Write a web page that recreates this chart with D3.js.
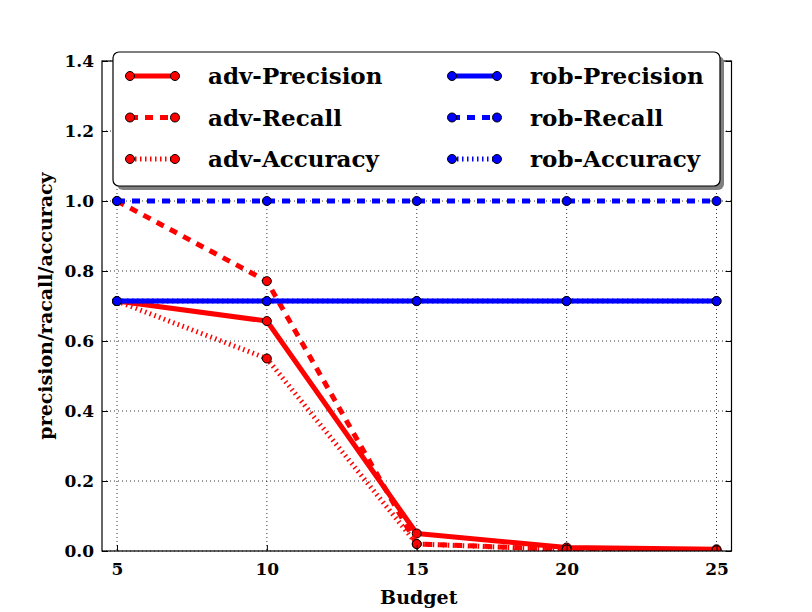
<!DOCTYPE html>
<html><head><meta charset="utf-8">
<script src="https://cdn.jsdelivr.net/npm/d3@7"></script>
<style>body{margin:0;background:#fff}</style>
</head><body>
<script>
const budgets = [5, 10, 15, 20, 25];
const advPrecision = [0.714, 0.657, 0.050, 0.010, 0.005];
const advRecall    = [1.000, 0.771, 0.020, 0.005, 0.002];
const advAccuracy  = [0.714, 0.550, 0.020, 0.004, 0.002];
const robPrecision = [0.714, 0.714, 0.714, 0.714, 0.714];
const robRecall    = [1.000, 1.000, 1.000, 1.000, 1.000];
const robAccuracy  = [0.714, 0.714, 0.714, 0.714, 0.714];
const xTicks = [5, 10, 15, 20, 25];
const yTicks = [0.0, 0.2, 0.4, 0.6, 0.8, 1.0, 1.2, 1.4];
const seriesNames = ["adv-Precision","adv-Recall","adv-Accuracy","rob-Precision","rob-Recall","rob-Accuracy"];

const W = 812, H = 612;
const m = {left:102, top:61, right:812-731.5, bottom:612-551};
const iw = W - m.left - m.right, ih = H - m.top - m.bottom;
const FONT = "'DejaVu Serif', serif";

const series = [
  {name:seriesNames[0], vals:advPrecision, color:"#ff0000", dash:null},
  {name:seriesNames[1], vals:advRecall, color:"#ff0000", dash:"8,7"},
  {name:seriesNames[2], vals:advAccuracy, color:"#ff0000", dash:"1.5,3.5"},
  {name:seriesNames[3], vals:robPrecision, color:"#0000ff", dash:null},
  {name:seriesNames[4], vals:robRecall, color:"#0000ff", dash:"8,7"},
  {name:seriesNames[5], vals:robAccuracy, color:"#0000ff", dash:"1.5,3.5"}
];

const svg = d3.select("body").append("svg").attr("width", W).attr("height", H);
const g = svg.append("g").attr("transform", `translate(${m.left},${m.top})`);

const x = d3.scaleLinear().domain([4.5, 25.5]).range([0, iw]);
const y = d3.scaleLinear().domain([0, 1.4]).range([ih, 0]);

svg.append("defs").append("clipPath").attr("id","clip")
  .append("rect").attr("width", iw).attr("height", ih);

// grid
const grid = g.append("g");
grid.selectAll("line.gx").data(xTicks).join("line")
  .attr("x1", d=>x(d)).attr("x2", d=>x(d)).attr("y1",0).attr("y2",ih)
  .attr("stroke","#000").attr("stroke-width",0.8).attr("stroke-dasharray","1,3");
grid.selectAll("line.gy").data(yTicks).join("line")
  .attr("y1", d=>y(d)).attr("y2", d=>y(d)).attr("x1",0).attr("x2",iw)
  .attr("stroke","#000").attr("stroke-width",0.8).attr("stroke-dasharray","1,3");

// lines
const plot = g.append("g").attr("clip-path","url(#clip)");
const line = d3.line().x((d,i)=>x(budgets[i])).y(d=>y(d));
series.forEach(s => {
  plot.append("path").datum(s.vals).attr("d", line)
    .attr("fill","none").attr("stroke", s.color).attr("stroke-width", 5)
    .attr("stroke-dasharray", s.dash).attr("stroke-linejoin","round");
  plot.selectAll(null).data(s.vals).join("circle")
    .attr("cx",(d,i)=>x(budgets[i])).attr("cy", d=>y(d)).attr("r",4.5)
    .attr("fill", s.color).attr("stroke","#000").attr("stroke-width",1);
});

// frame
g.append("rect").attr("width",iw).attr("height",ih).attr("fill","none")
  .attr("stroke","#000").attr("stroke-width",1.2);

// axes with inward ticks
const xAxis = g.append("g").attr("transform",`translate(0,${ih})`)
  .call(d3.axisBottom(x).tickValues(xTicks).tickSize(-6).tickPadding(12).tickFormat(d3.format("d")));
const xAxisTop = g.append("g")
  .call(d3.axisTop(x).tickValues(xTicks).tickSize(-6).tickFormat(""));
const yAxis = g.append("g")
  .call(d3.axisLeft(y).tickValues(yTicks).tickSize(-6).tickPadding(8).tickFormat(d3.format(".1f")));
const yAxisR = g.append("g").attr("transform",`translate(${iw},0)`)
  .call(d3.axisRight(y).tickValues(yTicks).tickSize(-6).tickFormat(""));
[xAxis,xAxisTop,yAxis,yAxisR].forEach(a=>{
  a.select(".domain").remove();
  a.selectAll(".tick line").attr("stroke","#000").attr("stroke-width",1);
  a.selectAll("text").attr("font-family",FONT).attr("font-weight","bold")
    .attr("font-size",17).attr("fill","#000");
});

// axis labels
svg.append("text").attr("x", m.left+iw/2 + 2).attr("y", 604)
  .attr("text-anchor","middle").attr("font-family",FONT).attr("font-weight","bold")
  .attr("font-size",19).text("Budget");
svg.append("text").attr("transform",`translate(52,${m.top+ih/2}) rotate(-90)`)
  .attr("text-anchor","middle").attr("font-family",FONT).attr("font-weight","bold")
  .attr("font-size",19).text("precision/racall/accuracy");

// legend
const L = {x:113, y:52, w:607, h:134};
svg.append("rect").attr("x",L.x+4).attr("y",L.y+4).attr("width",L.w).attr("height",L.h)
  .attr("rx",6).attr("fill","#808080");
svg.append("rect").attr("x",L.x).attr("y",L.y).attr("width",L.w).attr("height",L.h)
  .attr("rx",6).attr("fill","#fff").attr("stroke","#000").attr("stroke-width",1.2);
const colX = [130, 452], rowY = [76, 117.5, 159];
series.forEach((s,i) => {
  const cx = colX[Math.floor(i/3)], cy = rowY[i%3];
  const lg = svg.append("g");
  lg.append("line").attr("x1",cx).attr("x2",cx+45).attr("y1",cy).attr("y2",cy)
    .attr("stroke",s.color).attr("stroke-width",5).attr("stroke-dasharray",s.dash);
  [cx, cx+45].forEach(px => lg.append("circle").attr("cx",px).attr("cy",cy).attr("r",4.5)
    .attr("fill",s.color).attr("stroke","#000").attr("stroke-width",1));
  lg.append("text").attr("x",cx+78).attr("y",cy).attr("dy","0.36em")
    .attr("font-family",FONT).attr("font-weight","bold").attr("font-size",23)
    .text(s.name);
});
</script>
</body></html>
